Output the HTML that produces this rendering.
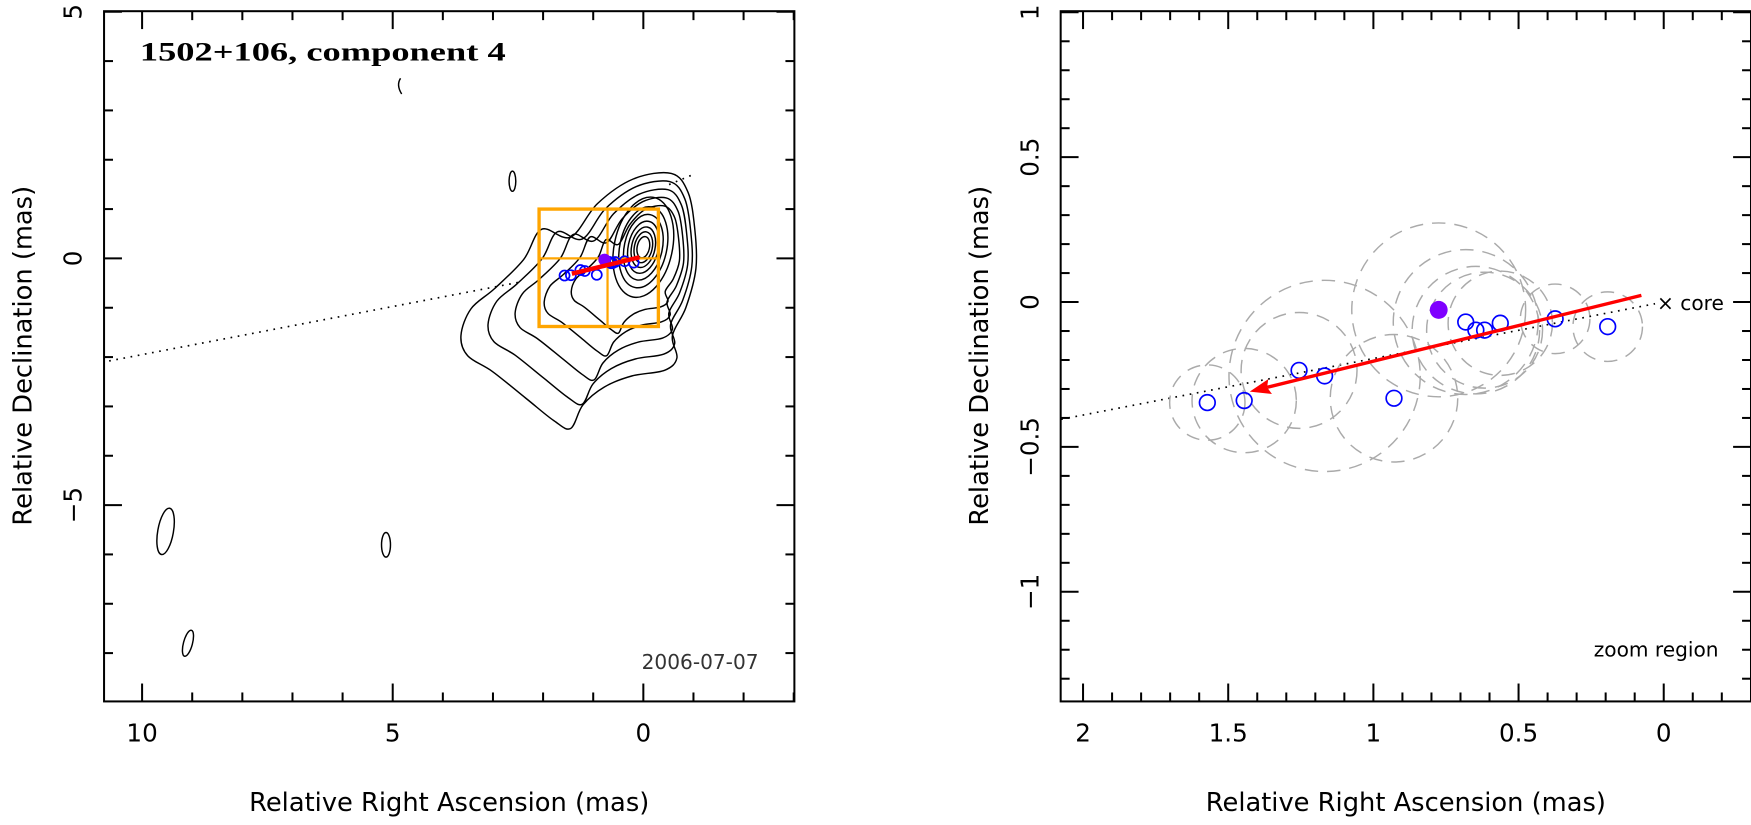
<!DOCTYPE html>
<html><head><meta charset="utf-8"><style>
body{margin:0;background:#fff}
svg text{font-family:"DejaVu Sans","Liberation Sans",sans-serif;fill:#000}
</style></head><body>
<svg id="c" width="1751" height="820" viewBox="0 0 1565 733" preserveAspectRatio="none" xmlns="http://www.w3.org/2000/svg"></svg>
<script>
// data
const compX=[1.572,1.445,1.256,1.168,0.929,0.682,0.647,0.617,0.563,0.374,0.193];
const compY=[-0.347,-0.340,-0.236,-0.255,-0.332,-0.069,-0.097,-0.097,-0.073,-0.058,-0.085];
const compR=[0.13,0.18,0.2,0.33,0.22,0.25,0.22,0.2,0.18,0.12,0.12];
const curX=[0.775], curY=[-0.027], curR=[0.3];
const arrowFrom=[0.077,0.023], arrowTo=[1.426,-0.309];
const paSlope=[-0.195];
const leftXTicks=[10,5,0], leftYTicks=[5,0,-5];
const rightXTicks=[2,1.5,1,0.5,0], rightXLabels=["2","1.5","1","0.5","0"];
const rightYTicks=[1,0.5,0,-0.5,-1], rightYLabels=["1","0.5","0","\u22120.5","\u22121"];
const zoomBox=[2.08,-0.3,1.0,-1.38];

const NS="http://www.w3.org/2000/svg", svg=document.getElementById('c');
function mk(t,a,p){const e=document.createElementNS(NS,t);for(const k in a)e.setAttribute(k,a[k]);(p||svg).appendChild(e);return e;}
const L={x0:93,x1:710,y0:10,y1:627,sx:v=>575-44.8*v,sy:v=>231-44.1*v};
const R={x0:948,x1:1565,y0:10,y1:627,sx:v=>1487-259.5*v,sy:v=>270-259*v};

function frame(P,name,xmaj,xmin,ymaj,ymin,xl,yl){
  const g=mk('g',{});
  
  
  mk('rect',{x:P.x0,y:P.y0,width:P.x1-P.x0,height:P.y1-P.y0,fill:'none',stroke:'#000','stroke-width':1.8},g);
  const x0v=(P===L)?10.76:2.077,x1v=(P===L)?-3.01:-0.3;
  for(let v=Math.ceil(Math.min(x0v,x1v)/xmin)*xmin;v<=Math.max(x0v,x1v)+1e-9;v+=xmin){
    const vv=Math.round(v/xmin)*xmin;const x=P.sx(vv);if(x<P.x0||x>P.x1)continue;
    const maj=xmaj.some(m=>Math.abs(m-vv)<1e-6);const len=maj?16:8;
    mk('line',{x1:x,x2:x,y1:P.y1,y2:P.y1-len,stroke:'#000','stroke-width':1.8},g);
    mk('line',{x1:x,x2:x,y1:P.y0,y2:P.y0+len,stroke:'#000','stroke-width':1.8},g);
  }
  const yb=(P===L)?[-8.98,5.0]:[-1.38,1.0];
  for(let v=Math.ceil(yb[0]/ymin)*ymin;v<=yb[1]+1e-9;v+=ymin){
    const vv=Math.round(v/ymin)*ymin;const y=P.sy(vv);if(y<P.y0-1||y>P.y1)continue;
    const maj=ymaj.some(m=>Math.abs(m-vv)<1e-6);const len=maj?16:8;
    mk('line',{x1:P.x0,x2:P.x0+len,y1:y,y2:y,stroke:'#000','stroke-width':1.8},g);
    mk('line',{x1:P.x1,x2:P.x1-len,y1:y,y2:y,stroke:'#000','stroke-width':1.8},g);
  }
  xmaj.forEach((v,i)=>{const t=mk('text',{x:P.sx(v),y:663,'font-size':22,'text-anchor':'middle'},g);t.textContent=xl[i];
    });
  ymaj.forEach((v,i)=>{const t=mk('text',{x:P.x0-20,y:P.sy(v),'font-size':22,'text-anchor':'middle',transform:`rotate(-90 ${P.x0-20} ${P.sy(v)})`},g);t.textContent=yl[i];
    });
  const cx=(P.x0+P.x1)/2;
  const xt=mk('text',{x:cx,y:725,'font-size':23,'text-anchor':'middle'},g);xt.textContent='Relative Right Ascension (mas)';
  
  const yx=P.x0-65,yc=318;
  const yt=mk('text',{x:yx,y:yc,'font-size':23,'text-anchor':'middle',transform:`rotate(-90 ${yx} ${yc})`},g);yt.textContent='Relative Declination (mas)';
  
}
frame(L,'left',leftXTicks,1,leftYTicks,1,["10","5","0"],["5","0","\u22125"]);
frame(R,'right',rightXTicks,0.1,rightYTicks,0.1,rightXLabels,rightYLabels);

const defs=mk('defs',{});
const cl=mk('clipPath',{id:'cl'},defs);mk('rect',{x:L.x0,y:L.y0,width:L.x1-L.x0,height:L.y1-L.y0},cl);
const cr=mk('clipPath',{id:'cr'},defs);mk('rect',{x:R.x0,y:R.y0,width:R.x1-R.x0,height:R.y1-R.y0},cr);
const gl=mk('g',{'clip-path':'url(#cl)'});
const gr=mk('g',{'clip-path':'url(#cr)'});

// contours (left)
const outer=[[600,155],[615,172],[621,205],[622,240],[613,275],[601,300],[605,320],[594,331],[565,336],[540,346],[521,362],[510,383],[495,376],[470,356],[440,332],[418,318],[412,300],[421,276],[442,258],[468,232],[484,205],[510,212],[534,182],[566,160]];
function smooth(pts){const n=pts.length;let d='';for(let i=0;i<n;i++){const p0=pts[(i-1+n)%n],p1=pts[i],p2=pts[(i+1)%n],p3=pts[(i+2)%n];
  if(i===0)d+='M'+p1[0].toFixed(1)+','+p1[1].toFixed(1);
  const c1=[p1[0]+(p2[0]-p0[0])/6,p1[1]+(p2[1]-p0[1])/6],c2=[p2[0]-(p3[0]-p1[0])/6,p2[1]-(p3[1]-p1[1])/6];
  d+=` C${c1[0].toFixed(1)},${c1[1].toFixed(1)} ${c2[0].toFixed(1)},${c2[1].toFixed(1)} ${p2[0].toFixed(1)},${p2[1].toFixed(1)}`;}return d+'Z';}
const ctr=[585,228];
const sl=[1,0.86,0.72,0.57,0.43],sr=[1,0.9,0.8,0.7,0.6],syu=[1,0.9,0.8,0.7,0.6],syd=[1,0.86,0.72,0.58,0.45];
sl.forEach((s,k)=>{
  const pts=outer.map(([x,y])=>{const dx=x-ctr[0],dy=y-ctr[1];return [ctr[0]+dx*(dx<0?sl[k]:sr[k]),ctr[1]+dy*(dy<0?syu[k]:syd[k])];});
  const p=mk('path',{d:smooth(pts),fill:'none',stroke:'#000','stroke-width':1.3},gl);
  
});
[26,21,17,13.5,10.5,8,5.5].forEach((rx,k)=>{
  const e=mk('ellipse',{cx:575,cy:221,rx,ry:rx*1.75,fill:'none',stroke:'#000','stroke-width':1.3,transform:'rotate(12 575 221)'},gl);
  
});
[[458,162,3,9,0],[148,475,7,21,10],[345,487,4,11,0],[168,575,4,12,15]].forEach(([x,y,rx,ry,a])=>{
  const e=mk('ellipse',{cx:x,cy:y,rx,ry,fill:'none',stroke:'#000','stroke-width':1.3,transform:`rotate(${a} ${x} ${y})`},gl);
  
});
mk('path',{d:'M358,70 Q354,76 359,84',fill:'none',stroke:'#000','stroke-width':1.3},gl);

function paLine(P,g,xa,xb){const l=mk('line',{x1:P.sx(xa),y1:P.sy(paSlope[0]*xa),x2:P.sx(xb),y2:P.sy(paSlope[0]*xb),stroke:'#000','stroke-width':1.5,'stroke-dasharray':'1.5 5'},g);
  }
paLine(L,gl,10.8,2.5);
paLine(R,gr,2.1,0.03);
mk('line',{x1:598,y1:165,x2:622,y2:155,stroke:'#000','stroke-width':1.5,'stroke-dasharray':'1.5 5'},gl);

const zb=mk('rect',{x:L.sx(zoomBox[0]),y:L.sy(zoomBox[2]),width:L.sx(zoomBox[1])-L.sx(zoomBox[0]),height:L.sy(zoomBox[3])-L.sy(zoomBox[2]),fill:'none',stroke:'#ffa500','stroke-width':3},gl);

mk('line',{x1:543,x2:543,y1:L.sy(zoomBox[2]),y2:L.sy(zoomBox[3]),stroke:'#ffa500','stroke-width':2},gl);
mk('line',{x1:L.sx(zoomBox[0]),x2:L.sx(zoomBox[1]),y1:L.sy(0),y2:L.sy(0),stroke:'#ffa500','stroke-width':2},gl);

function comps(P,g,r,showFit){
  if(showFit){compX.forEach((x,i)=>{const c=mk('circle',{cx:P.sx(x),cy:P.sy(compY[i]),r:compR[i]*259,fill:'none',stroke:'#aaa','stroke-width':1.3,'stroke-dasharray':'12 8'},g);
    });
    curX.forEach((x,i)=>{const c=mk('circle',{cx:P.sx(x),cy:P.sy(curY[i]),r:curR[i]*259,fill:'none',stroke:'#aaa','stroke-width':1.3,'stroke-dasharray':'12 8'},g);
    });}
  compX.forEach((x,i)=>{const c=mk('circle',{cx:P.sx(x),cy:P.sy(compY[i]),r,fill:'none',stroke:'#00f','stroke-width':1.5},g);
    });
  curX.forEach((x,i)=>{const c=mk('circle',{cx:P.sx(x),cy:P.sy(curY[i]),r:r+1,fill:'#7f00ff'},g);
    });
}
function arrow(P,g,w,hl){
  const x1=P.sx(arrowFrom[0]),y1=P.sy(arrowFrom[1]),x2=P.sx(arrowTo[0]),y2=P.sy(arrowTo[1]);
  const a=Math.atan2(y2-y1,x2-x1);
  const bx=x2-hl*Math.cos(a)*0.8,by=y2-hl*Math.sin(a)*0.8;
  const l=mk('line',{x1,y1,x2:bx,y2:by,stroke:'#f00','stroke-width':w},g);
  
  if(hl>0){const p=mk('polygon',{points:`${x2},${y2} ${x2-hl*Math.cos(a-0.35)},${y2-hl*Math.sin(a-0.35)} ${bx},${by} ${x2-hl*Math.cos(a+0.35)},${y2-hl*Math.sin(a+0.35)}`,fill:'#f00'},g);
    }
}
comps(R,gr,7,true);
arrow(R,gr,3,20);
comps(L,gl,4.5,false);
arrow(L,gl,4,0);

const t1=mk('text',{x:125,y:54,'font-size':24,'font-weight':'bold',textLength:327,lengthAdjust:'spacingAndGlyphs',style:'font-family:"Liberation Serif",serif'});t1.textContent='1502+106, component 4';

const t2=mk('text',{x:678,y:598,'font-size':18,'text-anchor':'end',style:'fill:#333'});t2.textContent='2006-07-07';

const t3=mk('text',{x:1536,y:587,'font-size':18,'text-anchor':'end'});t3.textContent='zoom region';

const t4=mk('text',{x:1481,y:277,'font-size':18});t4.textContent='\u00d7 core';

</script>
</body></html>
